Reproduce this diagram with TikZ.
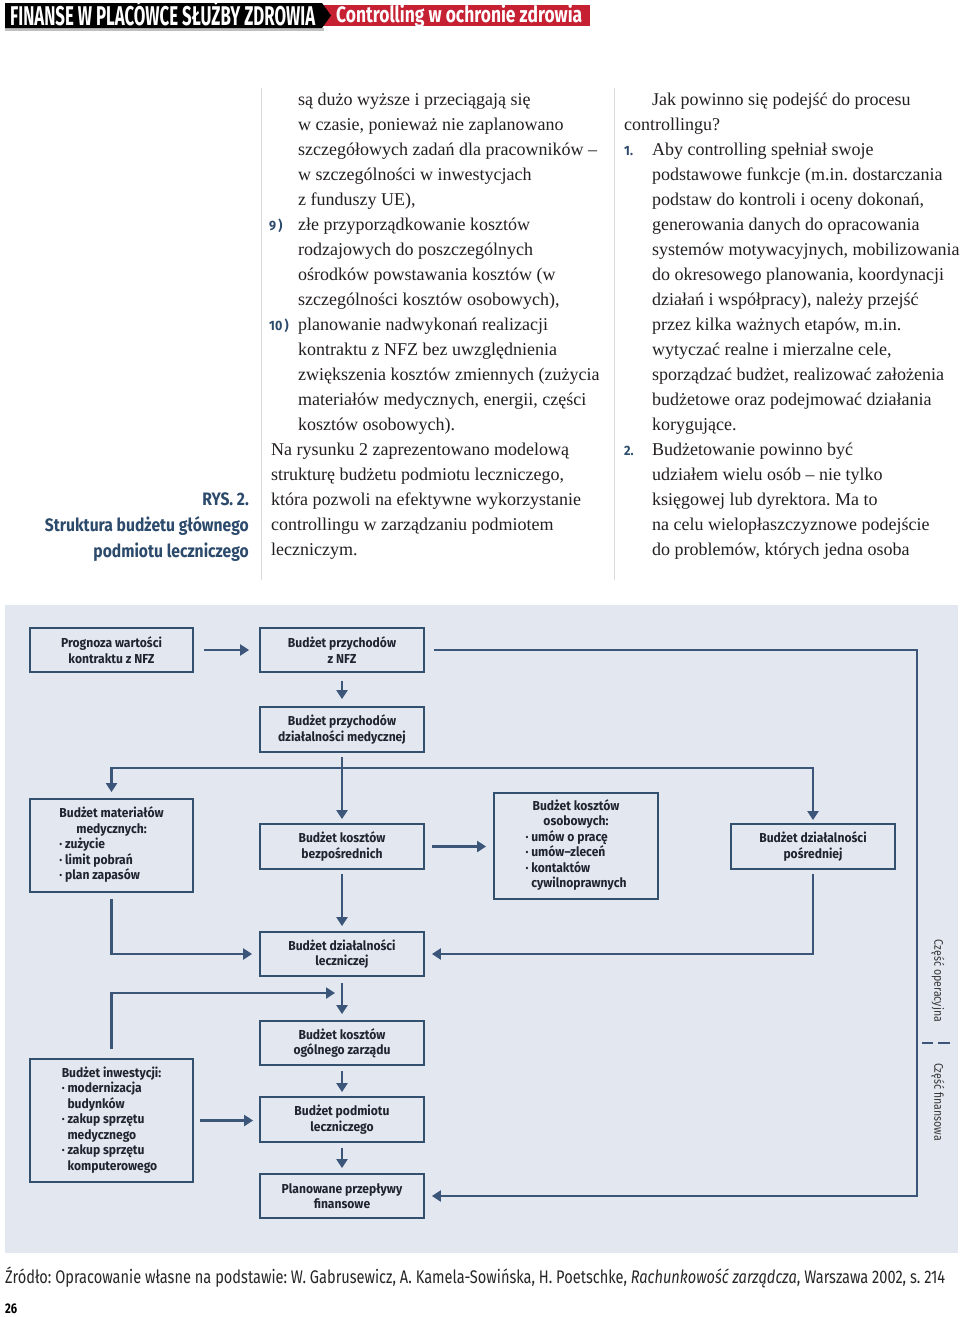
\documentclass[tikz,border=0pt]{standalone}
\usepackage{fontspec}
\setmainfont{Liberation Serif}
\newfontfamily\dia[FakeStretch=0.93]{Fira Sans}
\newfontfamily\capf[FakeStretch=0.87]{Fira Sans}
\newfontfamily\hdr[FakeStretch=0.62]{Fira Sans}
\newfontfamily\hdrb[FakeStretch=0.78]{Fira Sans}
\newfontfamily\foot[FakeStretch=0.8]{Fira Sans}
\newfontfamily\side[FakeStretch=0.85]{Fira Sans}
\usetikzlibrary{arrows.meta}
\definecolor{slate}{HTML}{3B5678}
\definecolor{boxc}{HTML}{34506F}
\definecolor{bgc}{HTML}{E3E8F0}
\definecolor{capc}{HTML}{2C4A6B}
\definecolor{txt}{HTML}{231F20}
\definecolor{btx}{HTML}{1F2430}
\definecolor{redc}{HTML}{C62033}
\definecolor{rulec}{HTML}{DADADA}
\frenchspacing
\begin{document}
\begin{tikzpicture}[x=1pt,y=-1pt,
  bt/.style={anchor=base west,inner sep=0pt,font=\fontsize{18}{25}\selectfont,text=txt},
  num/.style={anchor=base west,inner sep=0pt,font=\dia\bfseries\fontsize{13.5}{13.5}\selectfont,text=capc},
  captxt/.style={anchor=base east,inner sep=0pt,font=\capf\bfseries\fontsize{18}{20}\selectfont,text=capc},
  box/.style={draw=boxc,line width=1.8pt,rectangle,inner sep=0pt,minimum width=164pt,
    font=\dia\bfseries\fontsize{13}{15.5}\selectfont,text=btx,align=center},
  ln/.style={draw=slate,line width=2.2pt},
  arr/.style={ln,-{Triangle[length=9pt,width=11pt]}},
  sidel/.style={inner sep=0pt,rotate=-90,font=\side\fontsize{12.5}{13}\selectfont,text=black!78}]
\useasboundingbox (0,0) rectangle (960,1317);
\fill[white] (0,0) rectangle (960,1317);
% header
\fill[redc] (320,5) rectangle (590,26);
\fill[black!25] (5,28) rectangle (324,31);
\fill[black] (5,3) -- (322,3) -- (331,15.5) -- (322,28) -- (5,28) -- cycle;
\node[anchor=base west,inner sep=0pt,text=white] (hl) at (10,25)
  {\resizebox{305pt}{!}{\hdr\bfseries\fontsize{25}{25}\selectfont FINANSE W PLACÓWCE SŁUŻBY ZDROWIA}};
\node[anchor=base west,inner sep=0pt,text=white] (hr) at (336,22)
  {\resizebox{246pt}{!}{\hdrb\bfseries\fontsize{20}{20}\selectfont Controlling w ochronie zdrowia}};
% rules
\draw[rulec,line width=1pt] (261,88) -- (261,580);
\draw[rulec,line width=1pt] (614,88) -- (614,580);
% caption
\node[captxt] (c1) at (249,505) {RYS. 2.};
\node[captxt] (c2) at (249,531) {Struktura budżetu głównego};
\node[captxt] (c3) at (249,557) {podmiotu leczniczego};
% column 1
\node[bt] (a1) at (298,105) {są dużo wyższe i przeciągają się};
\node[bt] (a2) at (298,130) {w czasie, ponieważ nie zaplanowano};
\node[bt] (a3) at (298,155) {szczegółowych zadań dla pracowników –};
\node[bt] (a4) at (298,180) {w szczególności w inwestycjach};
\node[bt] (a5) at (298,205) {z funduszy UE),};
\node[num] (n9) at (269,230) {9\,)};
\node[bt] (a6) at (298,230) {złe przyporządkowanie kosztów};
\node[bt] (a7) at (298,255) {rodzajowych do poszczególnych};
\node[bt] (a8) at (298,280) {ośrodków powstawania kosztów (w};
\node[bt] (a9) at (298,305) {szczególności kosztów osobowych),};
\node[num] (n10) at (269,330) {10\,)};
\node[bt] (a10) at (298,330) {planowanie nadwykonań realizacji};
\node[bt] (a11) at (298,355) {kontraktu z NFZ bez uwzględnienia};
\node[bt] (a12) at (298,380) {zwiększenia kosztów zmiennych (zużycia};
\node[bt] (a13) at (298,405) {materiałów medycznych, energii, części};
\node[bt] (a14) at (298,430) {kosztów osobowych).};
\node[bt] (a15) at (271,455) {Na rysunku 2 zaprezentowano modelową};
\node[bt] (a16) at (271,480) {strukturę budżetu podmiotu leczniczego,};
\node[bt] (a17) at (271,505) {która pozwoli na efektywne wykorzystanie};
\node[bt] (a18) at (271,530) {controllingu w zarządzaniu podmiotem};
\node[bt] (a19) at (271,555) {leczniczym.};
% column 2
\node[bt] (b1) at (652,105) {Jak powinno się podejść do procesu};
\node[bt] (b2) at (624,130) {controllingu?};
\node[num] (n1) at (624,155) {1.};
\node[bt] (b3) at (652,155) {Aby controlling spełniał swoje};
\node[bt] (b4) at (652,180) {podstawowe funkcje (m.in. dostarczania};
\node[bt] (b5) at (652,205) {podstaw do kontroli i oceny dokonań,};
\node[bt] (b6) at (652,230) {generowania danych do opracowania};
\node[bt] (b7) at (652,255) {systemów motywacyjnych, mobilizowania};
\node[bt] (b8) at (652,280) {do okresowego planowania, koordynacji};
\node[bt] (b9) at (652,305) {działań i współpracy), należy przejść};
\node[bt] (b10) at (652,330) {przez kilka ważnych etapów, m.in.};
\node[bt] (b11) at (652,355) {wytyczać realne i mierzalne cele,};
\node[bt] (b12) at (652,380) {sporządzać budżet, realizować założenia};
\node[bt] (b13) at (652,405) {budżetowe oraz podejmować działania};
\node[bt] (b14) at (652,430) {korygujące.};
\node[num] (n2) at (624,455) {2.};
\node[bt] (b15) at (652,455) {Budżetowanie powinno być};
\node[bt] (b16) at (652,480) {udziałem wielu osób – nie tylko};
\node[bt] (b17) at (652,505) {księgowej lub dyrektora. Ma to};
\node[bt] (b18) at (652,530) {na celu wielopłaszczyznowe podejście};
\node[bt] (b19) at (652,555) {do problemów, których jedna osoba};
% diagram background
\fill[bgc] (5,605) rectangle (958,1253);
% boxes
\node[box,minimum width=163pt,minimum height=44pt] (prog) at (111.5,650) {Prognoza wartości\\kontraktu z NFZ};
\node[box,minimum height=44pt] (nfz) at (342,650) {Budżet przychodów\\z NFZ};
\node[box,minimum height=45pt] (przmed) at (342,729.5) {Budżet przychodów\\działalności medycznej};
\node[box,minimum width=163pt,minimum height=93pt] (mat) at (111.5,845.5)
  {\begin{tabular}{@{}l@{}}\multicolumn{1}{@{}c@{}}{Budżet materiałów}\\\multicolumn{1}{@{}c@{}}{medycznych:}\\· zużycie\\· limit pobrań\\· plan zapasów\end{tabular}};
\node[box,minimum height=45pt] (bezp) at (342,846.5) {Budżet kosztów\\bezpośrednich};
\node[box,minimum height=106pt] (osob) at (576,846)
  {\begin{tabular}{@{}l@{}}\multicolumn{1}{@{}c@{}}{Budżet kosztów}\\\multicolumn{1}{@{}c@{}}{osobowych:}\\· umów o pracę\\· umów–zleceń\\· kontaktów\\\phantom{· }cywilnoprawnych\end{tabular}};
\node[box,minimum height=45pt] (posr) at (813,846.5) {Budżet działalności\\pośredniej};
\node[box,minimum height=44pt] (lecz) at (342,954) {Budżet działalności\\leczniczej};
\node[box,minimum height=44pt] (ogol) at (342,1043) {Budżet kosztów\\ogólnego zarządu};
\node[box,minimum width=163pt,minimum height=123pt] (inw) at (111.5,1120.5)
  {\begin{tabular}{@{}l@{}}Budżet inwestycji:\\· modernizacja\\\phantom{· }budynków\\· zakup sprzętu\\\phantom{· }medycznego\\· zakup sprzętu\\\phantom{· }komputerowego\end{tabular}};
\node[box,minimum height=45pt] (podm) at (342,1119.5) {Budżet podmiotu\\leczniczego};
\node[box,minimum height=44pt] (plan) at (342,1196) {Planowane przepływy\\finansowe};
% connectors
\coordinate (railtop) at (917,650);
\coordinate (railbot) at (917,1196);
\coordinate (br) at (342,768);
\coordinate (invtip) at (335,993);
\draw[arr,shorten <=10pt,shorten >=10pt] (prog.east) -- (nfz.west);
\draw[arr,shorten <=8pt,shorten >=7pt] (nfz.south) -- (przmed.north);
\draw[arr,shorten <=9pt,shorten >=7pt] (nfz.east) -- (railtop) -- (railbot) -- (plan.east);
\draw[ln,shorten <=4pt] (przmed.south) -- (br);
\draw[arr,shorten >=4pt] (br) -- (bezp.north);
\draw[arr,shorten >=6pt] (br) -| (mat.north);
\draw[arr,shorten >=3pt] (br) -| (posr.north);
\draw[arr,shorten <=7pt,shorten >=7pt] (bezp.east) -- (bezp.east -| osob.west);
\draw[arr,shorten <=4pt,shorten >=5pt] (bezp.south) -- (lecz.north);
\draw[arr,shorten <=6pt,shorten >=7pt] (mat.south) |- (lecz.west);
\draw[arr,shorten <=4pt,shorten >=7pt] (posr.south) |- (lecz.east);
\draw[arr,shorten <=6pt,shorten >=6pt] (lecz.south) -- (ogol.north);
\draw[arr,shorten <=9pt] (inw.north) |- (invtip);
\draw[arr,shorten <=5pt,shorten >=4pt] (ogol.south) -- (podm.north);
\draw[arr,shorten <=6pt,shorten >=6pt] (inw.east) -- (inw.east -| podm.west);
\draw[arr,shorten <=5pt,shorten >=5pt] (podm.south) -- (plan.north);
% side labels
\node[sidel] (sop) at (938,981) {Część operacyjna};
\node[sidel] (sfi) at (938,1102) {Część finansowa};
\draw[slate,line width=1.8pt] (922,1043) -- (933,1043);
\draw[slate,line width=1.8pt] (938,1043) -- (950,1043);
% footer
\node[anchor=base west,inner sep=0pt,text=black!85] (src) at (5,1283)
  {\resizebox{940pt}{!}{\foot\fontsize{15}{15}\selectfont Źródło: Opracowanie własne na podstawie: W. Gabrusewicz, A. Kamela-Sowińska, H. Poetschke, \textit{Rachunkowość zarządcza}, Warszawa 2002, s. 214}};
\node[anchor=base west,inner sep=0pt,text=black] (pg) at (5,1313) {\foot\bfseries\fontsize{14}{14}\selectfont 26};
\end{tikzpicture}
\end{document}
